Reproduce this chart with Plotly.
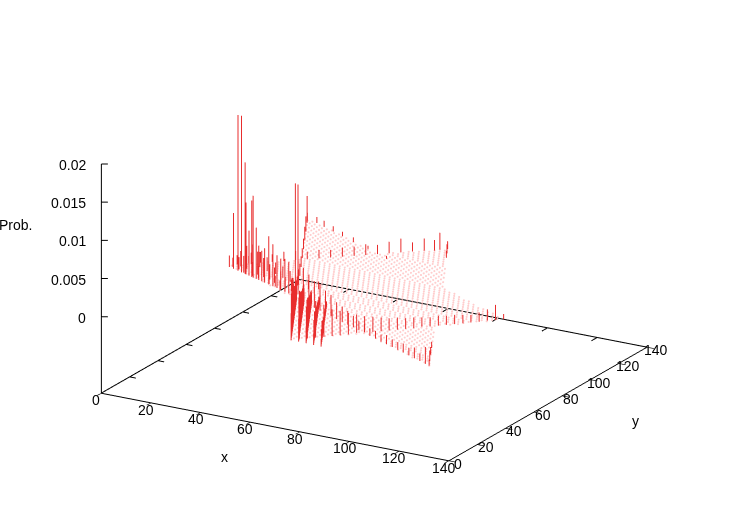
import plotly.graph_objects as go

# star outline, rows of faint dots: one entry per span
row_y = [16, 18, 20, 20, 22, 22, 24, 24, 26, 26, 28, 28, 30, 30, 32, 32, 34, 34, 36, 38, 40, 42, 44, 46, 48, 50,
         52, 54, 56, 58, 60, 62, 64, 66, 68, 70, 72, 74, 76, 78, 80, 82, 84, 86, 88, 90, 92, 94, 96, 98, 100, 102,
         104, 106, 108, 110, 110, 112, 112, 114, 114, 116, 116, 118, 118, 120, 120, 122, 122, 124, 124, 126, 126]
row_start = [67, 66, 65, 120, 64, 116, 63, 111, 62, 107, 61, 103, 60, 98, 59, 94, 58, 90, 57, 56, 55, 54, 53, 52, 51, 50,
             49, 47, 42, 38, 34, 29, 25, 21, 16, 12, 14, 16, 18, 20, 22, 24, 26, 28, 30, 30, 29, 28, 27, 26, 25, 24,
             23, 22, 21, 20, 52, 19, 54, 18, 56, 17, 58, 16, 60, 15, 62, 14, 64, 13, 66, 12, 68]
row_end = [67, 69, 71, 120, 72, 119, 74, 118, 76, 117, 78, 116, 79, 115, 81, 114, 83, 113, 112, 111, 110, 109, 108, 107, 106, 105,
           104, 103, 102, 104, 106, 108, 109, 111, 113, 115, 116, 118, 117, 113, 109, 104, 100, 96, 92, 88, 85, 84, 83, 82, 81, 80,
           79, 78, 77, 46, 76, 41, 75, 37, 74, 33, 73, 29, 72, 25, 71, 20, 70, 16, 69, 12, 68]

# tall impulses on the lower edge of the left arm
arm_x = [13, 15.1, 17.4, 19.2, 21, 21.5, 23, 24.4, 25.1, 26.7, 28, 29.5, 31, 33.1, 35.2, 37.3, 39.3, 41.4, 43.4, 53.2, 46.6]
arm_y = [68.3, 67.5, 66.6, 65.9, 65.2, 65, 64.4, 63.9, 63.6, 63, 62.5, 61.9, 61.3, 60.5, 59.7, 58.9, 58, 57.2, 56.4, 43.7, 57.3]
arm_z = [.0015, .0073, .0204, .0205, .0146, .0094, .0059, .01, .0107, .0067, .0045, .004, .0045, .0063, .0055, .0043, .0041, .0043, .0041, .0165, .0144]

arm2_x = [16, 19, 22, 25, 28, 31, 34, 37, 40, 43, 18, 22, 26, 30, 34, 38, 42, 14, 17, 20, 24, 27, 30, 33, 36, 39, 44, 47, 50]
arm2_y = [71, 70, 69, 67, 66, 65, 63, 62, 60, 59, 75, 74, 72, 71, 69, 67, 65, 69, 68, 66, 65, 64, 63, 61, 60, 58, 62, 64, 66]
arm2_z = [.002, .003, .0035, .003, .0025, .002, .002, .0018, .0015, .0015, .0015, .002, .0018, .0015, .0015, .0014, .0012,
          .0012, .0016, .0022, .0018, .0016, .0014, .0018, .0014, .0012, .0014, .0012, .001]

# upper edge from the left tip to the upper right tip
top_x = [14, 17, 20, 23, 26, 29, 32, 35, 38, 41, 44, 47, 50, 53, 56, 59, 62, 65, 66, 68]
top_y = [72, 75, 78, 81, 84, 87, 90, 93, 96, 99, 102, 105, 108, 111, 114, 117, 120, 122, 124, 126]
top_z = [.0012, .001, .0014, .001, .0012, .0012, .001, .0011, .001, .0012, .0012, .0014, .0012, .0015, .0018, .0012, .0016, .0014, .0022, .001]

# dense band going up from the lower tip, five rows
band_y = [16, 18, 20, 22, 24, 26, 28, 30, 32, 34, 36, 38, 40, 42, 44, 46, 48, 50, 52]
band1_x = [67, 66, 65, 64, 63, 62, 61, 60, 59, 58, 57, 56, 55, 54, 53, 52, 51, 50, 49]
band1_z = [.0035, .0058, .0072, .0072, .007, .0056, .0064, .0058, .005, .0038, .0042, .003, .0036, .0028, .0034, .0025, .0031, .0022, .0026]
band2_x = [70, 69, 68, 67, 66, 65, 64, 63, 62, 61, 60, 59, 58, 57, 56, 55, 54, 53, 52]
band2_z = [.003, .0055, .0042, .0058, .0044, .005, .0036, .0045, .003, .004, .0026, .0035, .0024, .0032, .0022, .003, .002, .0026, .0018]
band3_x = [73, 72, 71, 70, 69, 68, 67, 66, 65, 64, 63, 62, 61, 60, 59, 58, 57, 56, 55]
band3_z = [.002, .0045, .003, .0048, .0032, .0045, .0028, .004, .0024, .0035, .0022, .003, .002, .0026, .0018, .0024, .0016, .002, .0014]
band4_x = [76, 75, 74, 73, 72, 71, 70, 69, 68, 67, 66, 65, 64, 63, 62, 61, 60, 59, 58]
band4_z = [.0015, .003, .002, .0035, .0022, .003, .002, .0026, .0018, .0024, .0016, .002, .0014, .0018, .0012, .0015, .0011, .0014, .001]
band5_x = [79, 78, 77, 76, 75, 74, 73, 72, 71, 70, 69, 68, 67, 66, 65, 64, 63, 62, 61]
band5_z = [.001, .002, .0014, .0025, .0015, .002, .0014, .0018, .0012, .0016, .0011, .0014, .001, .0012, .0009, .001, .0008, .001, .0007]

# edge from the lower tip to the right tip
right_x = [69, 71, 73, 75, 77, 79, 81, 83, 85, 87, 89, 91, 93, 95, 97, 99, 101, 103, 105, 107, 109, 111, 113, 115, 117, 119]
right_y = [18.3, 20.5, 22.8, 25.1, 27.4, 29.6, 31.9, 34.2, 36.4, 38.7, 41, 43.2, 45.5, 47.8, 50, 52.3, 54.6, 56.9, 59.1, 61.4, 63.7, 65.9, 68.2, 70.5, 72.7, 75]
right_z = [.0058, .005, .0048, .0042, .0035, .0032, .0028, .0025, .0022, .002, .0018, .0016, .0016, .0014, .0014, .0013, .0012, .0013, .0012, .0012, .0011, .001, .0012, .0015, .002, .0007]

# edge running out to the bottom right tip
low_x = [52, 55, 58, 61, 64, 67, 70, 73, 76, 79, 82, 85, 88, 91, 94, 97, 100, 103, 106, 109, 112, 115, 118, 120]
low_y = [51.5, 50.1, 48.7, 47.3, 45.9, 44.5, 43.1, 41.8, 40.4, 39, 37.6, 36.2, 34.8, 33.4, 32, 30.6, 29.3, 27.9, 26.5, 25.1, 23.7, 22.3, 20.9, 20]
low_z = [.0045, .004, .0035, .0035, .003, .0028, .0022, .002, .0018, .0015, .0012, .0012, .001, .001, .0009, .0012, .001, .001, .0012, .001, .0014, .001, .0022, .0008]

# rest of the up-going edge, and a few short ones near the far tips
up_x = [42, 38, 34, 30, 26, 22, 18, 14, 13, 17, 21, 26, 31, 37, 45, 55, 118, 115, 112, 70, 72]
up_y = [66, 74, 82, 90, 98, 106, 114, 122, 124, 123.6, 121.7, 119.3, 116.9, 114, 110.2, 105.5, 24, 30, 36, 122, 118]
up_z = [.002, .0016, .0014, .0013, .0014, .0018, .002, .0035, .001, .0008, .0008, .0007, .0006, .0006, .0005, .0004, .0014, .001, .0008, .0012, .0009]

x_ticks = [0, 20, 40, 60, 80, 100, 120, 140]
y_ticks = [0, 20, 40, 60, 80, 100, 120, 140]
z_ticks = [0, 0.005, 0.01, 0.015, 0.02]
z_labels = ['0', '0.005', '0.01', '0.015', '0.02']
z_floor = -0.01
z_top = 0.03


def reread(x, y):
    # the positions above were read against a slightly wrong x axis corner, this corrects them
    return 1.0385 * x - 0.0158 * y, -0.0558 * x + 1.0176 * y


dot_x, dot_y, dot_z = [], [], []
for y, start, end in zip(row_y, row_start, row_end):
    # every other row is staggered, as the lattice in the picture is
    for x in range(start + y % 4 // 2, end + 1, 2):
        new_x, new_y = reread(x, y)
        dot_x.append(new_x)
        dot_y.append(new_y)
        dot_z.append(0)

all_x = arm_x + arm2_x + top_x + band1_x + band2_x + band3_x + band4_x + band5_x + right_x + low_x + up_x
all_y = arm_y + arm2_y + top_y + band_y * 5 + right_y + low_y + up_y
all_z = arm_z + arm2_z + top_z + band1_z + band2_z + band3_z + band4_z + band5_z + right_z + low_z + up_z

# impulses, one segment each from zero up to the value
imp_x, imp_y, imp_z = [], [], []
for x, y, z in zip(all_x, all_y, all_z):
    new_x, new_y = reread(x, y)
    imp_x += [new_x, new_x, None]
    imp_y += [new_y, new_y, None]
    imp_z += [0, z, None]

# ticks drawn by hand: z ticks run flat on the page, the back edges repeat x and y ticks
tick_x, tick_y, tick_z = [], [], []
for z in z_ticks:
    tick_x += [0, 2, None]
    tick_y += [0, 1.17, None]
    tick_z += [z, z, None]
for x in x_ticks[1:-1]:
    tick_x += [x, x, None]
    tick_y += [140, 136, None]
    tick_z += [z_floor, z_floor, None]
for y in y_ticks[1:-1]:
    tick_x += [0, 2.5, None]
    tick_y += [y, y, None]
    tick_z += [z_floor, z_floor, None]

fig = go.Figure()
fig.add_scatter3d(x=dot_x, y=dot_y, z=dot_z, mode='markers', hoverinfo='skip',
                  marker=dict(size=1.2, color='rgb(255,205,205)', line=dict(width=0)))
fig.add_scatter3d(x=imp_x, y=imp_y, z=imp_z, mode='lines', hoverinfo='skip',
                  line=dict(color='rgb(232,45,45)', width=2))
# back edges of the base and the z axis, which stops at the last tick
fig.add_scatter3d(x=[0, 0, 140, None, 0, 0], y=[0, 140, 140, None, 0, 0],
                  z=[z_floor, z_floor, z_floor, None, z_floor, z_ticks[-1]],
                  mode='lines', hoverinfo='skip', line=dict(color='black', width=2))
fig.add_scatter3d(x=tick_x, y=tick_y, z=tick_z, mode='lines', hoverinfo='skip',
                  line=dict(color='black', width=2))

axis_font = dict(family='Liberation Sans', size=14, color='black')
tick_style = dict(tickcolor='black', tickwidth=2, showticklabels=False,
                  showgrid=False, zeroline=False, showbackground=False, showspikes=False, title=dict(text=''))

tick_notes = []
for x in x_ticks:
    tick_notes.append(dict(x=x, y=0, z=z_floor, text=str(x), showarrow=False, font=axis_font,
                           xanchor='center', yanchor='middle', xshift=-5, yshift=-7))
for y in y_ticks:
    tick_notes.append(dict(x=140, y=y, z=z_floor, text=str(y), showarrow=False, font=axis_font,
                           xanchor='center', yanchor='middle', xshift=9, yshift=-3))
for z, label in zip(z_ticks, z_labels):
    tick_notes.append(dict(x=0, y=0, z=z, text=label, showarrow=False, font=axis_font,
                           xanchor='right', yanchor='middle', xshift=-13, yshift=-1))

fig.update_layout(
    width=750, height=525, showlegend=False, paper_bgcolor='white',
    margin=dict(l=0, r=0, t=0, b=0),
    scene=dict(
        domain=dict(x=[0, 1], y=[0, 1]),
        aspectmode='manual', aspectratio=dict(x=1.533, y=1.5, z=1.235),
        camera=dict(projection=dict(type='orthographic'), up=dict(x=0, y=0, z=1),
                    center=dict(x=0.002, y=0.0035, z=-0.183), eye=dict(x=0.465, y=-0.7915, z=0.143)),
        # ranges a hair wider than the data, lines exactly on the bound get clipped
        xaxis=dict(range=[-0.05, 140.05], tickvals=x_ticks, ticks='inside', ticklen=8,
                   showline=True, linecolor='black', linewidth=2, **tick_style),
        yaxis=dict(range=[-0.05, 140.05], tickvals=y_ticks, ticks='inside', ticklen=8,
                   showline=True, linecolor='black', linewidth=2, **tick_style),
        zaxis=dict(range=[z_floor - 0.00001, z_top], tickvals=z_ticks, ticks='', showline=False, **tick_style),
        annotations=tick_notes,
    ),
    annotations=[
        dict(text='x', x=224 / 750, y=1 - 457 / 525, xref='paper', yref='paper', xanchor='center', yanchor='middle',
             showarrow=False, font=axis_font),
        dict(text='y', x=635 / 750, y=1 - 421 / 525, xref='paper', yref='paper', xanchor='center', yanchor='middle',
             showarrow=False, font=axis_font),
        dict(text='Prob.', x=15 / 750, y=1 - 225 / 525, xref='paper', yref='paper', xanchor='center', yanchor='middle',
             showarrow=False, font=axis_font),
    ],
)

# drop the browser's default page margin so the figure starts at the window corner
fig.write_html("out.html", config={'displayModeBar': False}, post_script="document.body.style.margin = '0';")
